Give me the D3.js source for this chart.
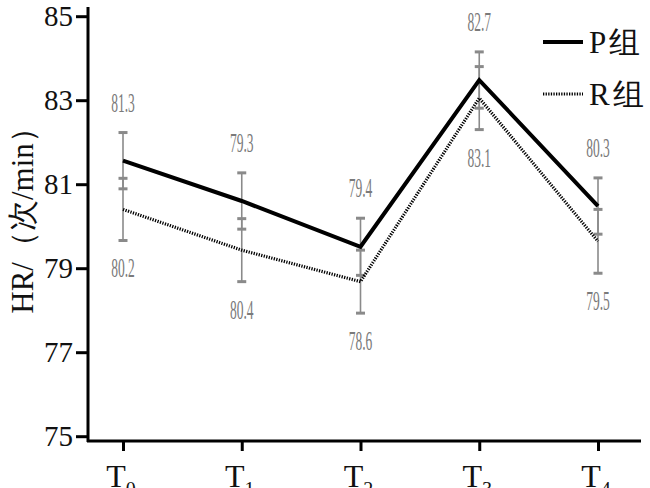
<!DOCTYPE html>
<html>
<head>
<meta charset="utf-8">
<script src="https://cdn.jsdelivr.net/npm/d3@7"></script>
<style>
  body { margin: 0; background: #fff; }
  svg { display: block; }
  svg text { font-family: 'Liberation Serif', 'DejaVu Serif', serif; }
</style>
</head>
<body>
<div id="chart"></div>
<script>
// Data
const timePoints = ['T0', 'T1', 'T2', 'T3', 'T4'];
const pMean = [81.56, 80.60, 79.51, 83.48, 80.48];
const pSD = [0.67, 0.67, 0.68, 0.67, 0.67];
const rMean = [80.40, 79.43, 78.68, 83.05, 79.64];
const rSD = [0.74, 0.75, 0.75, 0.75, 0.76];
const topLabels = ['81.3', '79.3', '79.4', '82.7', '80.3'];
const bottomLabels = ['80.2', '80.4', '78.6', '83.1', '79.5'];
const yTicks = [75, 77, 79, 81, 83, 85];
const groups = ['P组', 'R组'];

class HrChart {
  constructor(_config) {
    this.config = {
      parentElement: _config.parentElement,
      containerWidth: 650,
      containerHeight: 488,
    };
    this.initVis();
  }

  initVis() {
    const vis = this;

    vis.svg = d3.select(vis.config.parentElement).append('svg')
      .attr('width', vis.config.containerWidth)
      .attr('height', vis.config.containerHeight);

    vis.xScale = d3.scalePoint()
      .domain(timePoints)
      .range([123, 598]);

    vis.yScale = d3.scaleLinear()
      .domain([75, 85])
      .range([436.2, 16.2]);

    vis.renderVis();
  }

  renderVis() {
    const vis = this;

    // Axes
    const yAxis = d3.axisLeft(vis.yScale)
      .tickValues(yTicks)
      .tickSize(12)
      .tickPadding(3);
    const yAxisG = vis.svg.append('g')
      .attr('transform', 'translate(88,0)')
      .call(yAxis);
    yAxisG.select('.domain').remove();
    yAxisG.selectAll('.tick line').attr('stroke', '#000').attr('stroke-width', 3);
    yAxisG.selectAll('.tick text')
      .attr('font-size', 29)
      .attr('fill', '#111');

    vis.svg.append('line')
      .attr('x1', 88).attr('x2', 88)
      .attr('y1', 7).attr('y2', 442)
      .attr('stroke', '#000').attr('stroke-width', 3);

    const xAxis = d3.axisBottom(vis.xScale).tickSize(10).tickFormat('');
    const xAxisG = vis.svg.append('g')
      .attr('transform', 'translate(0,441)')
      .call(xAxis);
    xAxisG.select('.domain').remove();
    xAxisG.selectAll('.tick line').attr('stroke', '#000').attr('stroke-width', 3);

    vis.svg.append('line')
      .attr('x1', 87).attr('x2', 641)
      .attr('y1', 441).attr('y2', 441)
      .attr('stroke', '#000').attr('stroke-width', 3);

    // T with subscripts (cut at the bottom edge, as in the reference)
    const xLabels = vis.svg.append('g').selectAll('text')
      .data(timePoints)
      .join('text')
      .attr('x', (d) => vis.xScale(d) - 2)
      .attr('y', 487)
      .attr('text-anchor', 'middle')
      .attr('font-size', 32)
      .attr('fill', '#111');
    xLabels.append('tspan').text('T');
    xLabels.append('tspan')
      .attr('dy', 9)
      .attr('font-size', 20)
      .text((d) => d.slice(1));

    // Y title
    vis.svg.append('text')
      .attr('transform', 'translate(33,213) rotate(-90)')
      .attr('text-anchor', 'middle')
      .attr('font-size', 31)
      .attr('fill', '#111')
      .text('HR/（次/min）');

    // Error bars
    const series = [
      { mean: pMean, sd: pSD },
      { mean: rMean, sd: rSD },
    ];
    const barG = vis.svg.append('g');
    series.forEach((s) => {
      timePoints.forEach((t, i) => {
        const x = vis.xScale(t);
        const y1 = vis.yScale(s.mean[i] + s.sd[i]);
        const y2 = vis.yScale(s.mean[i] - s.sd[i]);
        barG.append('line')
          .attr('x1', x).attr('x2', x)
          .attr('y1', y1).attr('y2', y2)
          .attr('stroke', '#8a8a8a').attr('stroke-width', 1.6);
        [y1, y2].forEach((y) => {
          barG.append('line')
            .attr('x1', x - 4.5).attr('x2', x + 4.5)
            .attr('y1', y).attr('y2', y)
            .attr('stroke', '#8a8a8a').attr('stroke-width', 3);
        });
      });
    });

    // Lines
    const line = d3.line()
      .x((d, i) => vis.xScale(timePoints[i]))
      .y((d) => vis.yScale(d));

    vis.svg.append('path')
      .datum(rMean)
      .attr('d', line)
      .attr('fill', 'none')
      .attr('stroke', '#000')
      .attr('stroke-width', 3.2)
      .attr('stroke-dasharray', '1.3,1.3');

    vis.svg.append('path')
      .datum(pMean)
      .attr('d', line)
      .attr('fill', 'none')
      .attr('stroke', '#000')
      .attr('stroke-width', 4);

    // Value labels
    const labelG = vis.svg.append('g');
    timePoints.forEach((t, i) => {
      const x = vis.xScale(t);
      const top = Math.min(vis.yScale(pMean[i] + pSD[i]), vis.yScale(rMean[i] + rSD[i]));
      const bottom = Math.max(vis.yScale(pMean[i] - pSD[i]), vis.yScale(rMean[i] - rSD[i]));
      [[topLabels[i], top - 21], [bottomLabels[i], bottom + 37]].forEach(([txt, y]) => {
        labelG.append('text')
          .attr('transform', `translate(${x},${y}) scale(0.5,1)`)
          .attr('text-anchor', 'middle')
          .attr('font-size', 27)
          .attr('fill', '#7a7a7a')
          .text(txt);
      });
    });

    // Legend
    const legend = vis.svg.append('g');
    const rows = [
      { name: groups[0], y: 42, dash: null, width: 4 },
      { name: groups[1], y: 94, dash: '1.3,1.3', width: 3.2 },
    ];
    rows.forEach((r) => {
      legend.append('line')
        .attr('x1', 543).attr('x2', 583)
        .attr('y1', r.y).attr('y2', r.y)
        .attr('stroke', '#000')
        .attr('stroke-width', r.width)
        .attr('stroke-dasharray', r.dash);
      legend.append('text')
        .attr('x', 589)
        .attr('y', r.y + 11)
        .attr('font-size', 31)
        .attr('letter-spacing', 3)
        .attr('fill', '#111')
        .text(r.name);
    });
  }
}

const chart = new HrChart({ parentElement: '#chart' });
</script>
</body>
</html>
